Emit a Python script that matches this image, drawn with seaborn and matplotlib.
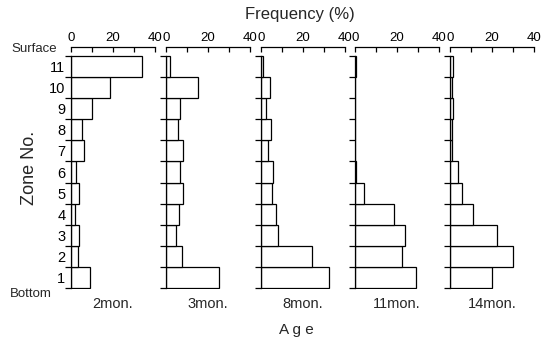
import matplotlib
matplotlib.use("Agg")
import matplotlib.pyplot as plt
import seaborn as sns
import pandas as pd
import numpy as np
from matplotlib.ticker import FixedLocator

zones = [1, 2, 3, 4, 5, 6, 7, 8, 9, 10, 11]
ages = ["2mon.", "3mon.", "8mon.", "11mon.", "14mon."]
freq_2mon = [9.2, 3.3, 3.8, 2.0, 4.0, 2.4, 6.2, 5.1, 10.0, 18.6, 33.6]
freq_3mon = [25.4, 7.6, 4.6, 6.0, 8.1, 6.8, 8.1, 5.9, 6.8, 15.0, 2.0]
freq_8mon = [32.6, 24.5, 8.2, 7.2, 5.0, 5.6, 3.5, 4.6, 2.4, 4.2, 1.0]
freq_11mon = [28.9, 22.6, 23.7, 18.6, 4.1, 0.5, 0.0, 0.0, 0.0, 0.0, 0.7]
freq_14mon = [20.1, 29.8, 22.5, 10.8, 5.9, 4.0, 1.0, 1.0, 1.2, 1.0, 1.6]
series = [freq_2mon, freq_3mon, freq_8mon, freq_11mon, freq_14mon]

sns.set_theme(style="white")
plt.rcParams["font.family"] = ["Liberation Sans", "DejaVu Sans"]
plt.rcParams["font.size"] = 10.5

fig = plt.figure(figsize=(5.48, 3.41), dpi=100)
W, H = 548, 341
lefts = [71, 166, 261, 355, 450]
pw = 84
top_px, bot_px = 47, 289

for i, (age, vals) in enumerate(zip(ages, series)):
    ax = fig.add_axes([lefts[i] / W, 1 - bot_px / H, pw / W, (bot_px - top_px) / H])
    df = pd.DataFrame({"zone": zones, "freq": vals})
    sns.barplot(data=df, x="freq", y="zone", orient="y", native_scale=True,
                width=1.0, color="white", edgecolor="black", linewidth=0.9,
                saturation=1, ax=ax, errorbar=None)
    ax.set_xlim(0, 40)
    ax.set_ylim(0.45, 11.93)
    ax.set_xlabel("")
    ax.set_ylabel("")
    for s in ["right", "bottom"]:
        ax.spines[s].set_visible(False)
    for s in ["top", "left"]:
        ax.spines[s].set_color("black")
        ax.spines[s].set_linewidth(0.9)
    ax.spines["left"].set_bounds(0.5, 11.5)
    ax.xaxis.tick_top()
    ax.set_xticks([0, 20, 40])
    ax.xaxis.set_minor_locator(FixedLocator([10, 30]))
    ax.tick_params(axis="x", which="both", direction="in", length=3.5, width=0.9,
                   color="black", top=True, bottom=False, labelsize=9.5, pad=2,
                   labelcolor="black")
    ax.set_yticks(zones)
    ax.yaxis.set_minor_locator(FixedLocator([z + 0.5 for z in [0] + zones]))
    ax.tick_params(axis="y", which="minor", direction="out", length=4, width=0.9,
                   color="black", left=True)
    ax.tick_params(axis="y", which="major", length=0, pad=4, labelsize=10.5,
                   labelcolor="black")
    if i > 0:
        ax.tick_params(axis="y", which="major", labelleft=False)
    ax.text(0.5, -0.035, age, transform=ax.transAxes, ha="center", va="top",
            fontsize=10.5)

fig.text(300 / W, 1 - 14 / H, "Frequency (%)", ha="center", va="center", fontsize=12)
fig.text(296 / W, 1 - 330 / H, "A g e", ha="center", va="center", fontsize=11)
fig.text(30 / W, 1 - 168 / H, "Zone No.", ha="center", va="center", rotation=90,
         fontsize=13)
fig.text(57 / W, 1 - 49 / H, "Surface", ha="right", va="center", fontsize=9.5)
fig.text(52 / W, 1 - 294 / H, "Bottom", ha="right", va="center", fontsize=9.5)

fig.savefig("out.png", dpi=100)
